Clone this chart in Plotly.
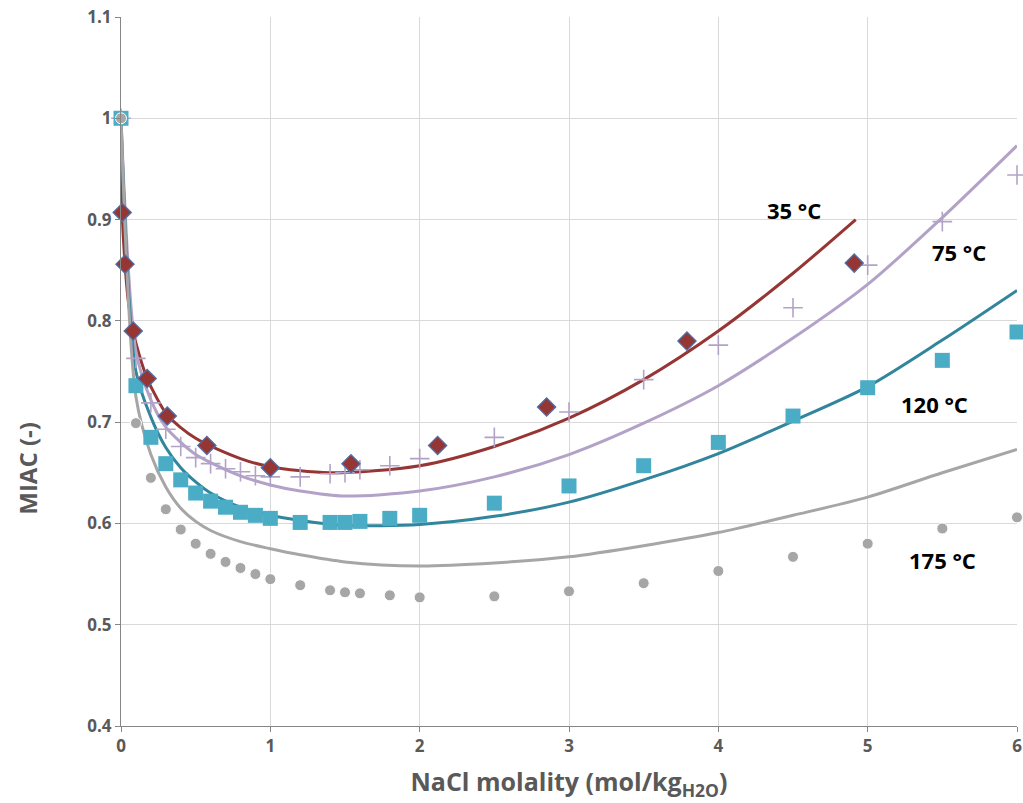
import plotly.graph_objects as go

# ---- measured data (markers) ----
m_35 = [0.008, 0.027, 0.082, 0.175, 0.31, 0.575, 1.0, 1.54, 2.12, 2.85, 3.79, 4.91]
miac_35 = [0.907, 0.856, 0.790, 0.743, 0.706, 0.677, 0.655, 0.659, 0.677, 0.715, 0.780, 0.857]

m_exp = [0, 0.1, 0.2, 0.3, 0.4, 0.5, 0.6, 0.7, 0.8, 0.9, 1.0, 1.2, 1.4, 1.5, 1.6, 1.8,
         2.0, 2.5, 3.0, 3.5, 4.0, 4.5, 5.0, 5.5, 6.0]
miac_75 = [1.0, 0.763, 0.719, 0.693, 0.676, 0.665, 0.659, 0.654, 0.651, 0.647, 0.646,
           0.646, 0.649, 0.650, 0.653, 0.657, 0.664, 0.685, 0.710, 0.742, 0.776, 0.813,
           0.855, 0.898, 0.944]
miac_120 = [1.0, 0.736, 0.685, 0.659, 0.643, 0.630, 0.622, 0.616, 0.611, 0.608, 0.605,
            0.601, 0.601, 0.601, 0.602, 0.605, 0.608, 0.620, 0.637, 0.657, 0.680, 0.706,
            0.734, 0.761, 0.789]
miac_175 = [1.0, 0.699, 0.645, 0.614, 0.594, 0.580, 0.570, 0.562, 0.556, 0.550, 0.545,
            0.539, 0.534, 0.532, 0.531, 0.529, 0.527, 0.528, 0.533, 0.541, 0.553, 0.567,
            0.580, 0.595, 0.606]

# ---- model curves ----
m_fit35 = [0.001, 0.008, 0.027, 0.05, 0.082, 0.1, 0.175, 0.2, 0.31, 0.5, 0.8, 1.0,
           1.4, 2.0, 2.5, 3.0, 3.5, 4.0, 4.5, 4.92]
fit_35 = [0.968, 0.907, 0.856, 0.818, 0.790, 0.778, 0.743, 0.735, 0.707, 0.684, 0.664,
          0.656, 0.650, 0.657, 0.676, 0.704, 0.742, 0.790, 0.847, 0.900]

m_fit = [0, 0.1, 0.2, 0.3, 0.4, 0.5, 0.6, 0.8, 1.0, 1.2, 1.5, 2.0, 2.5, 3.0, 3.5, 4.0,
         4.5, 5.0, 5.5, 6.0]
fit_75 = [1.0, 0.770, 0.722, 0.695, 0.680, 0.668, 0.660, 0.647, 0.638, 0.632, 0.627,
          0.632, 0.646, 0.668, 0.699, 0.736, 0.783, 0.836, 0.902, 0.973]
fit_120 = [1.0, 0.750, 0.705, 0.675, 0.655, 0.641, 0.630, 0.616, 0.608, 0.603, 0.598,
           0.599, 0.607, 0.621, 0.643, 0.669, 0.701, 0.735, 0.781, 0.830]
fit_175 = [1.0, 0.725, 0.668, 0.636, 0.615, 0.602, 0.593, 0.582, 0.575, 0.569, 0.562,
           0.558, 0.561, 0.567, 0.578, 0.591, 0.608, 0.626, 0.650, 0.673]

# ---- label text / positions ----
labels = ["35 °C", "75 °C", "120 °C", "175 °C"]
label_x = [4.51, 5.61, 5.45, 5.5]
label_y = [0.909, 0.868, 0.718, 0.564]

RED, PURPLE, TEAL, GREY = "#963634", "#B3A2C7", "#31859C", "#A6A6A6"
SQUARE, DIAMOND_EDGE = "#4BACC6", "#4F6FA8"
FONT = "Open Sans"
AXIS_TXT = "#595959"

fig = go.Figure()

for xs, ys, col in [(m_fit35, fit_35, RED), (m_fit, fit_75, PURPLE),
                    (m_fit, fit_120, TEAL), (m_fit, fit_175, GREY)]:
    fig.add_trace(go.Scatter(x=xs, y=ys, mode="lines",
                             line=dict(color=col, width=3, shape="spline", smoothing=0.8),
                             showlegend=False, hoverinfo="skip"))

fig.add_trace(go.Scatter(x=m_exp, y=miac_75, mode="markers", cliponaxis=False,
                         marker=dict(symbol="cross-thin", size=14,
                                     line=dict(color=PURPLE, width=1.6)),
                         showlegend=False))
fig.add_trace(go.Scatter(x=m_exp, y=miac_120, mode="markers", cliponaxis=False,
                         marker=dict(symbol="square", size=15, color=SQUARE,
                                     line=dict(width=0)),
                         showlegend=False))
fig.add_trace(go.Scatter(x=m_35, y=miac_35, mode="markers", cliponaxis=False,
                         marker=dict(symbol="diamond", size=14, color=RED,
                                     line=dict(color=DIAMOND_EDGE, width=1.3)),
                         showlegend=False))
fig.add_trace(go.Scatter(x=m_exp, y=miac_175, mode="markers", cliponaxis=False,
                         marker=dict(symbol="circle", size=11, color=GREY,
                                     line=dict(color="white", width=1)),
                         showlegend=False))

for t, x, y in zip(labels, label_x, label_y):
    fig.add_annotation(x=x, y=y, text=t, showarrow=False,
                       font=dict(family=FONT, size=22, color="black", weight="bold"))

# vertical axis title, placed in paper space
fig.add_annotation(xref="paper", yref="paper", x=-0.104, y=0.364, text="MIAC (-)",
                   textangle=-90, showarrow=False, xanchor="center", yanchor="middle",
                   font=dict(family=FONT, size=24, color=AXIS_TXT, weight="bold"))

axis_common = dict(showgrid=True, gridcolor="#D9D9D9", gridwidth=1, zeroline=False,
                   showline=True, linecolor="#868686", linewidth=1,
                   ticks="outside", ticklen=5, tickcolor="#868686",
                   ticklabeloverflow="allow", automargin=False,
                   tickfont=dict(family=FONT, size=17, color=AXIS_TXT, weight="bold"))

fig.update_layout(
    width=1023, height=803,
    margin=dict(l=121, r=6, t=17, b=77),
    paper_bgcolor="white", plot_bgcolor="white",
    xaxis=dict(range=[0, 6], dtick=1, **axis_common,
               title=dict(text="NaCl molality (mol/kg<sub>H2O</sub>)", standoff=17,
                          font=dict(family=FONT, size=25, color=AXIS_TXT, weight="bold"))),
    yaxis=dict(range=[0.4, 1.1], dtick=0.1, **axis_common),
)

fig.write_html("out.html")
